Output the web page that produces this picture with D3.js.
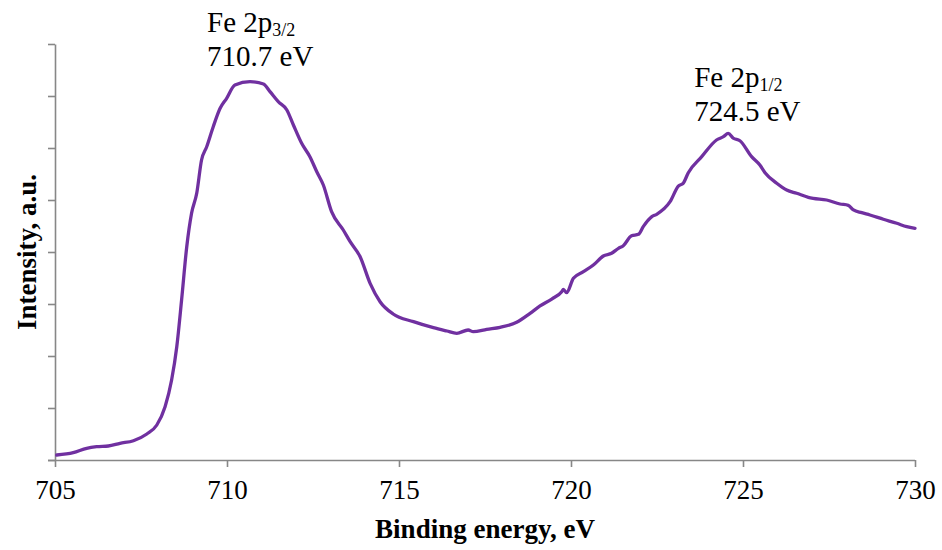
<!DOCTYPE html>
<html>
<head>
<meta charset="utf-8">
<script src="https://cdn.jsdelivr.net/npm/d3@7"></script>
<style>
  html, body { margin: 0; padding: 0; background: #fff; }
  svg { display: block; }
</style>
</head>
<body>
<div id="chart"></div>
<script>
// Fe 2p XPS spectrum: binding energy (eV) and intensity (a.u.)
const bindingEnergy = [
  705.05, 705.53, 705.92, 706.21, 706.55, 706.89, 707.28, 707.67, 707.96, 708.20,
  708.39, 708.54, 708.68, 708.83, 708.97, 709.12, 709.26, 709.41, 709.60, 709.80,
  709.99, 710.23, 710.67, 711.06, 711.25, 711.49, 711.74, 711.93, 712.17, 712.41,
  712.61, 712.80, 713.04, 713.38, 713.58, 713.87, 714.16, 714.45, 714.83, 715.42,
  716.00, 716.39, 716.68, 717.01, 717.16, 717.55, 717.94, 718.42, 718.81, 719.10,
  719.44, 719.73, 719.78, 719.87, 720.07, 720.36, 720.65, 720.94, 721.18, 721.38,
  721.52, 721.76, 721.96, 722.10, 722.35, 722.49, 722.88, 723.12, 723.26, 723.41,
  723.80, 724.23, 724.43, 724.57, 724.72, 724.91, 725.25, 725.49, 725.64, 725.98,
  726.27, 726.56, 726.90, 727.04, 727.43, 727.82, 728.06, 728.21, 728.45, 728.69,
  729.08, 729.47, 729.76, 730.00
];
const intensity = [
  96, 140, 225, 256, 269, 321, 371, 500, 673, 1025,
  1538, 2179, 3077, 4102, 4744, 5129, 5769, 6025, 6410, 6763,
  6956, 7212, 7275, 7231, 7083, 6890, 6731, 6442, 6090, 5833,
  5544, 5288, 4775, 4423, 4198, 3910, 3398, 3044, 2808, 2660,
  2544, 2481, 2437, 2500, 2467, 2513, 2552, 2648, 2821, 2962,
  3096, 3237, 3283, 3217, 3494, 3621, 3750, 3923, 3975, 4071,
  4121, 4313, 4340, 4487, 4679, 4725, 4967, 5269, 5321, 5525,
  5833, 6154, 6217, 6283, 6187, 6140, 5833, 5673, 5525, 5321,
  5192, 5129, 5052, 5033, 5000, 4923, 4898, 4808, 4756, 4712,
  4629, 4552, 4487, 4456
];

const xTicks = [705, 710, 715, 720, 725, 730];
const yTicks = [0, 1000, 2000, 3000, 4000, 5000, 6000, 7000, 8000];

// Peak annotations: label lines and the energy where each block starts
const peakLabels = [
  { name: "Fe 2p", sub: "3/2", energyText: "710.7 eV", at: 709.42, top: 32 },
  { name: "Fe 2p", sub: "1/2", energyText: "724.5 eV", at: 723.58, top: 87 }
];

const width = 942, height = 550;
const margin = { top: 44, right: 27, bottom: 90, left: 55 };
const axisColor = "#878787";
const lineColor = "#7030A0";
const serif = '"Liberation Serif", "Times New Roman", Times, serif';

const svg = d3.select("#chart").append("svg")
  .attr("width", width).attr("height", height)
  .attr("font-family", serif);

const x = d3.scaleLinear().domain([705, 730]).range([margin.left, width - margin.right]);
const y = d3.scaleLinear().domain([0, 8000]).range([height - margin.bottom, margin.top]);

// X axis
const xAxis = svg.append("g")
  .attr("transform", `translate(0,${height - margin.bottom})`)
  .call(d3.axisBottom(x).tickValues(xTicks).tickSize(7).tickSizeOuter(0).tickPadding(13))
  .attr("font-family", serif).attr("font-size", 27);
xAxis.select(".domain").attr("stroke", axisColor).attr("stroke-width", 1.6)
  .attr("d", `M${margin.left - 7},0.5H${width - margin.right}`);
xAxis.selectAll(".tick line").attr("stroke", axisColor).attr("stroke-width", 1.6);
xAxis.selectAll(".tick text").attr("fill", "#000");

// Y axis (unlabelled ticks)
const yAxis = svg.append("g")
  .attr("transform", `translate(${margin.left},0)`)
  .call(d3.axisLeft(y).tickValues(yTicks).tickSize(7).tickSizeOuter(0).tickFormat(""));
yAxis.select(".domain").attr("stroke", axisColor).attr("stroke-width", 1.6);
yAxis.selectAll(".tick line").attr("stroke", axisColor).attr("stroke-width", 1.6);

// Spectrum line
const points = bindingEnergy.map((e, i) => [e, intensity[i]]);
const line = d3.line()
  .x(d => x(d[0]))
  .y(d => y(d[1]))
  .curve(d3.curveMonotoneX);

svg.append("path")
  .datum(points)
  .attr("fill", "none")
  .attr("stroke", lineColor)
  .attr("stroke-width", 3.3)
  .attr("stroke-linejoin", "round")
  .attr("stroke-linecap", "round")
  .attr("d", line);

// Peak labels
peakLabels.forEach(p => {
  const t = svg.append("text")
    .attr("x", x(p.at)).attr("y", p.top)
    .attr("font-family", serif)
    .attr("font-size", 29);
  t.append("tspan").text(p.name);
  t.append("tspan").attr("dy", 4).attr("font-size", 18).text(p.sub);
  svg.append("text")
    .attr("x", x(p.at)).attr("y", p.top + 34)
    .attr("font-family", serif)
    .attr("font-size", 29)
    .text(p.energyText);
});

// Axis titles
svg.append("text")
  .attr("x", (margin.left + width - margin.right) / 2)
  .attr("y", 538)
  .attr("text-anchor", "middle")
  .attr("font-family", serif)
  .attr("font-size", 27).attr("font-weight", "bold")
  .text("Binding energy, eV");

svg.append("text")
  .attr("transform", `translate(36,${(margin.top + height - margin.bottom) / 2}) rotate(-90)`)
  .attr("text-anchor", "middle")
  .attr("font-family", serif)
  .attr("font-size", 27).attr("font-weight", "bold")
  .text("Intensity, a.u.");
</script>
</body>
</html>
